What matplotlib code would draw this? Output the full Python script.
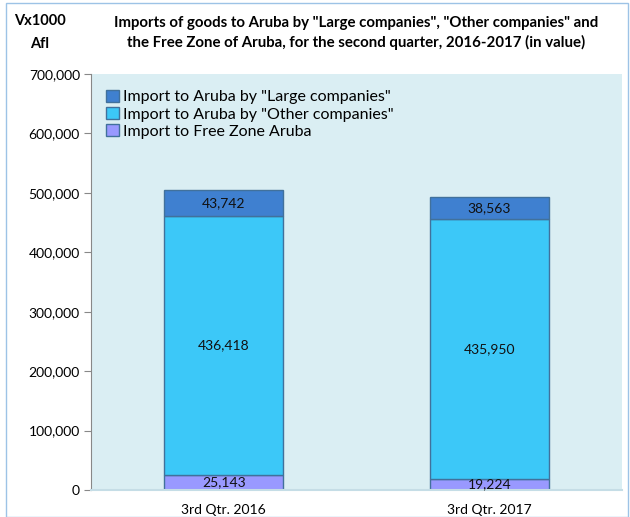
import matplotlib.pyplot as plt
from matplotlib.patches import Rectangle
from matplotlib.ticker import FuncFormatter

plt.rcParams['font.family'] = ['Lato', 'DejaVu Sans']

quarters = ["3rd Qtr. 2016", "3rd Qtr. 2017"]
free_zone = [25143, 19224]
other = [436418, 435950]
large = [43742, 38563]

labels = ['Import to Aruba by "Large companies"',
          'Import to Aruba by "Other companies"',
          'Import to Free Zone Aruba']
colors = ["#3F80D0", "#3CC8F8", "#9999FF"]
edge = "#41719C"

fig = plt.figure(figsize=(6.3, 5.17), dpi=100)
ax = fig.add_axes([91 / 630, 1 - 490 / 517, 531 / 630, 416 / 517])
ax.set_facecolor("#DAEEF3")

x = range(len(quarters))
w = 0.45
b1 = ax.bar(x, free_zone, w, color=colors[2], edgecolor=edge, linewidth=1, label=labels[2])
bot2 = free_zone
b2 = ax.bar(x, other, w, bottom=bot2, color=colors[1], edgecolor=edge, linewidth=1, label=labels[1])
bot3 = [a + b for a, b in zip(free_zone, other)]
b3 = ax.bar(x, large, w, bottom=bot3, color=colors[0], edgecolor=edge, linewidth=1, label=labels[0])

for bars, vals in ((b1, free_zone), (b2, other), (b3, large)):
    ax.bar_label(bars, labels=[f"{v:,}" for v in vals], label_type="center", fontsize=10, color="#111111")

ax.set_xlim(-0.5, 1.5)
ax.set_ylim(0, 700000)
ax.set_yticks(range(0, 700001, 100000))
ax.yaxis.set_major_formatter(FuncFormatter(lambda v, p: f"{int(v):,}"))
ax.set_xticks(list(x))
ax.set_xticklabels(quarters)
ax.tick_params(axis="x", length=0, pad=10, labelsize=10)
ax.tick_params(axis="y", length=5, color="#888888", labelsize=10, pad=3)
for s in ("top", "right"):
    ax.spines[s].set_visible(False)
ax.spines["left"].set_color("#888888")
ax.spines["bottom"].set_color("#C5DDE6")
ax.spines["bottom"].set_linewidth(1.5)

h, l = ax.get_legend_handles_labels()
ax.legend(h[::-1], l[::-1], loc="upper left", bbox_to_anchor=(0.01, 0.985), frameon=False,
          fontsize=11.5, handlelength=0.8, handleheight=0.8, handletextpad=0.3,
          labelspacing=0.15, borderaxespad=0.2)

fig.text(40 / 630, 1 - 21 / 517, "Vx1000", ha="center", va="center", fontsize=10.5, fontweight="bold")
fig.text(40 / 630, 1 - 44 / 517, "Afl", ha="center", va="center", fontsize=10.5, fontweight="bold")
fig.text(356 / 630, 1 - 33 / 517,
         'Imports of goods to Aruba by "Large companies", "Other companies" and\n'
         'the Free Zone of Aruba, for the second quarter, 2016-2017 (in value)',
         ha="center", va="center", fontsize=10.8, fontweight="bold", linespacing=1.45)

fig.patches.append(Rectangle((6 / 630, 0), 1 - 8 / 630, 1 - 3 / 517, transform=fig.transFigure,
                             fill=False, edgecolor="#9DC3E6", linewidth=1))

fig.savefig("out.png", dpi=100)
